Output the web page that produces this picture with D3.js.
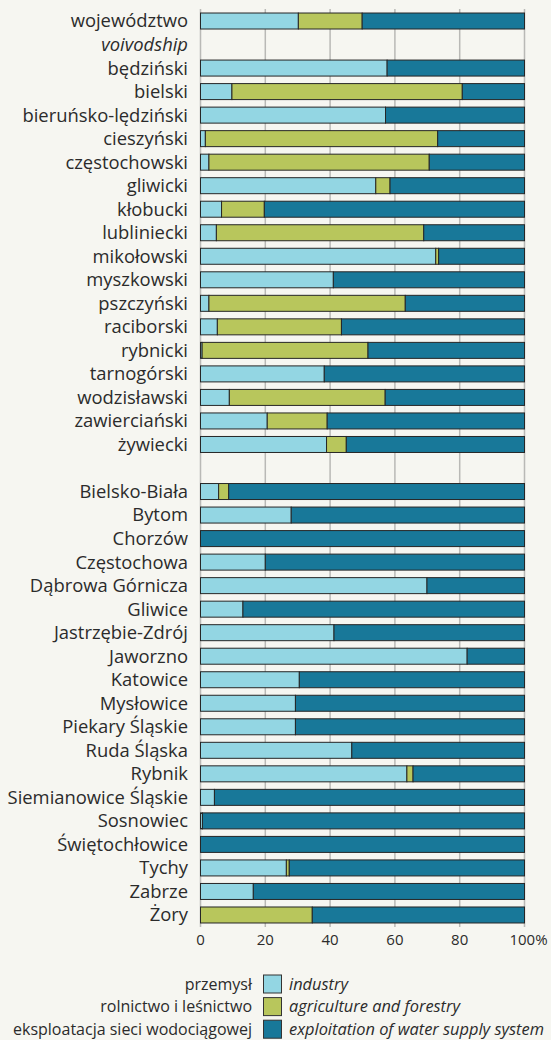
<!DOCTYPE html>
<html>
<head>
<meta charset="utf-8">
<script src="https://cdn.jsdelivr.net/npm/d3@7"></script>
<style>
  body { margin: 0; background: #f6f6f1; }
  svg { display: block; font-family: 'Open Sans', Lato, sans-serif; }
</style>
</head>
<body>
<div id="chart"></div>
<script>
// row labels, top to bottom ('' = empty spacer row)
const rowLabels = [
  'województwo', 'voivodship',
  'będziński', 'bielski', 'bieruńsko-lędziński', 'cieszyński', 'częstochowski',
  'gliwicki', 'kłobucki', 'lubliniecki', 'mikołowski', 'myszkowski',
  'pszczyński', 'raciborski', 'rybnicki', 'tarnogórski', 'wodzisławski',
  'zawierciański', 'żywiecki',
  '',
  'Bielsko-Biała', 'Bytom', 'Chorzów', 'Częstochowa', 'Dąbrowa Górnicza',
  'Gliwice', 'Jastrzębie-Zdrój', 'Jaworzno', 'Katowice', 'Mysłowice',
  'Piekary Śląskie', 'Ruda Śląska', 'Rybnik', 'Siemianowice Śląskie',
  'Sosnowiec', 'Świętochłowice', 'Tychy', 'Zabrze', 'Żory'
];

// shares in %, null = no bar in that row
const industry = [
  30.2, null,
  57.6, 9.7, 57.1, 1.5, 2.6, 54.1, 6.5, 4.9, 72.6, 41.0,
  2.6, 5.2, 0.5, 38.2, 8.9, 20.6, 38.9,
  null,
  5.6, 28.0, 0, 20.0, 69.9, 13.1, 41.2, 82.3, 30.5, 29.3,
  29.3, 46.7, 63.7, 4.3, 0.6, 0, 26.5, 16.3, 0
];
const agriculture = [
  19.7, null,
  0, 71.1, 0, 71.7, 68.0, 4.4, 13.2, 64.0, 0.9, 0,
  60.6, 38.3, 51.2, 0, 48.1, 18.5, 6.1,
  null,
  3.1, 0, 0, 0, 0, 0, 0, 0, 0, 0,
  0, 0, 1.9, 0, 0, 0, 0.9, 0, 34.5
];
const water = [
  50.1, null,
  42.4, 19.2, 42.9, 26.8, 29.4, 41.5, 80.3, 31.1, 26.5, 59.0,
  36.8, 56.5, 48.3, 61.8, 43.0, 60.9, 55.0,
  null,
  91.3, 72.0, 100, 80.0, 30.1, 86.9, 58.8, 17.7, 69.5, 70.7,
  70.7, 53.3, 34.4, 95.7, 99.4, 100, 72.6, 83.7, 65.5
];

const xTicks = [0, 20, 40, 60, 80, 100];
const seriesKeys = ['industry', 'agriculture', 'water'];
const colors = ['#93d6e3', '#b8c65c', '#187899'];
const legendPl = ['przemysł', 'rolnictwo i leśnictwo', 'eksploatacja sieci wodociągowej'];
const legendEn = ['industry', 'agriculture and forestry', 'exploitation of water supply system'];

const width = 551, height = 1040;

const svg = d3.select('#chart').append('svg')
  .attr('width', width)
  .attr('height', height);

svg.append('rect').attr('width', width).attr('height', height).attr('fill', '#f6f6f1');

const x = d3.scaleLinear().domain([0, 100]).range([200.5, 524.5]);
const y = d3.scaleBand()
  .domain(d3.range(rowLabels.length))
  .range([9.25, 926.75])
  .paddingInner(0.32)
  .paddingOuter(0.16);

// grid lines
svg.append('g')
  .selectAll('line')
  .data(xTicks)
  .join('line')
  .attr('x1', d => x(d))
  .attr('x2', d => x(d))
  .attr('y1', 9)
  .attr('y2', 927)
  .attr('stroke', '#b9b9b6')
  .attr('stroke-width', 1.5);

// stack data
const data = rowLabels.map((label, i) => ({
  i: i,
  industry: industry[i],
  agriculture: agriculture[i],
  water: water[i]
})).filter(d => d.industry !== null);

const stacked = d3.stack().keys(seriesKeys)(data);

svg.append('g')
  .selectAll('g')
  .data(stacked)
  .join('g')
  .attr('fill', (d, k) => colors[k])
  .selectAll('rect')
  .data(d => d.filter(s => s[1] - s[0] > 0))
  .join('rect')
  .attr('x', s => x(s[0]))
  .attr('width', s => x(s[1]) - x(s[0]))
  .attr('y', s => y(s.data.i))
  .attr('height', y.bandwidth())
  .attr('stroke', '#262626')
  .attr('stroke-width', 1);

// row labels
svg.append('g')
  .selectAll('text')
  .data(rowLabels)
  .join('text')
  .attr('x', 188)
  .attr('y', (d, i) => y(i) + y.bandwidth() / 2)
  .attr('dy', '0.35em')
  .attr('text-anchor', 'end')
  .attr('font-size', 18.4)
  .attr('fill', '#2b2b2b')
  .style('font-style', (d, i) => i === 1 ? 'italic' : 'normal')
  .text(d => d);

// x axis labels
svg.append('g')
  .selectAll('text')
  .data(xTicks)
  .join('text')
  .attr('x', d => d === 100 ? x(d) + 4 : x(d))
  .attr('y', 940)
  .attr('dy', '0.35em')
  .attr('text-anchor', 'middle')
  .attr('font-size', 15)
  .attr('fill', '#2b2b2b')
  .text(d => d === 100 ? '100%' : d);

// legend
const legend = svg.append('g')
  .selectAll('g')
  .data(colors)
  .join('g')
  .attr('transform', (d, k) => 'translate(0,' + (984 + k * 22.6) + ')');

legend.append('rect')
  .attr('x', 263.5)
  .attr('y', -9)
  .attr('width', 18)
  .attr('height', 18)
  .attr('fill', d => d)
  .attr('stroke', '#333')
  .attr('stroke-width', 1);

legend.append('text')
  .attr('x', 252)
  .attr('dy', '0.35em')
  .attr('text-anchor', 'end')
  .attr('font-size', 16)
  .attr('fill', '#2b2b2b')
  .text((d, k) => legendPl[k]);

legend.append('text')
  .attr('x', 289)
  .attr('dy', '0.35em')
  .attr('font-size', 16.4)
  .attr('font-style', 'italic')
  .attr('fill', '#2b2b2b')
  .text((d, k) => legendEn[k]);
</script>
</body>
</html>
